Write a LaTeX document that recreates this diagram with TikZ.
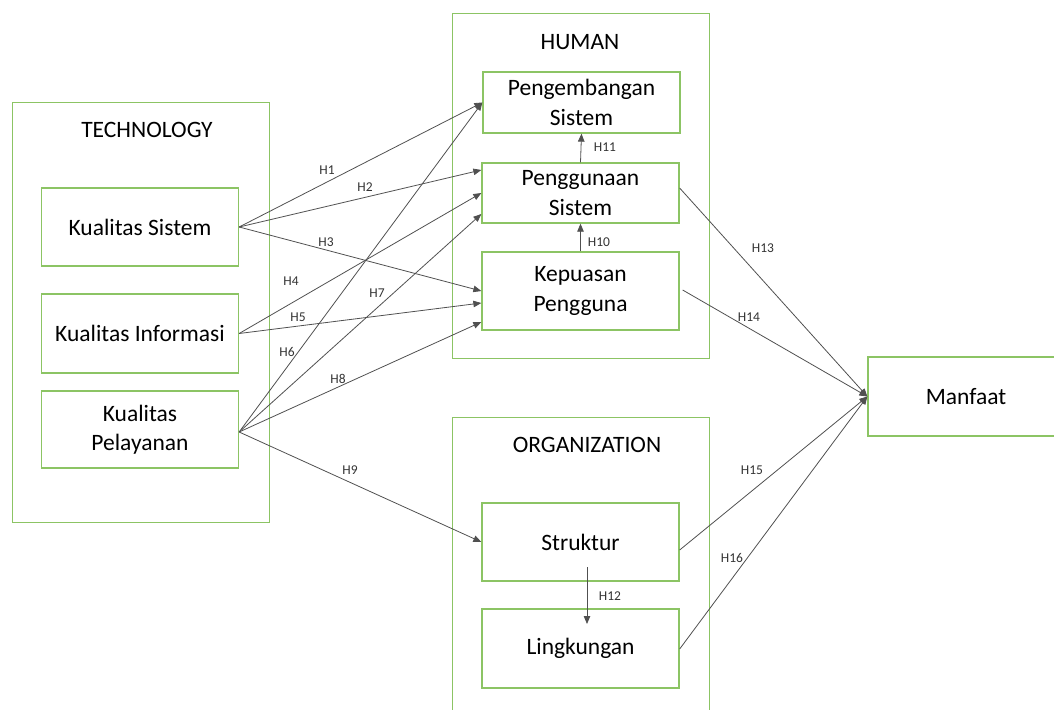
\documentclass[tikz,border=0pt]{standalone}
\usepackage{fontspec}
\setmainfont{Carlito}
\usetikzlibrary{arrows.meta}
\definecolor{boxgreen}{RGB}{140,196,100}
\definecolor{linegray}{RGB}{80,80,80}
\tikzset{
  outerbox/.style={draw=boxgreen, line width=1.3pt, inner sep=0pt, anchor=north west},
  varbox/.style={draw=boxgreen, line width=1.3pt, inner sep=0pt, minimum width=197pt, minimum height=78pt, align=center, font=\fontsize{23.5}{29.5}\selectfont},
  titletext/.style={font=\fontsize{23.5}{28}\selectfont},
  conn/.style={draw=linegray, line width=0.8pt, -{Triangle[length=8pt,width=6.5pt]}},
  hlab/.style={font=\fontsize{13.5}{15}\selectfont, text=black!80, inner sep=1pt}
}
\begin{document}
\begin{tikzpicture}[x=1pt,y=-1pt]
\useasboundingbox (0,0) rectangle (1054,709);
% group boxes
\node[outerbox, minimum width=257pt, minimum height=420pt] (techbox) at (12,102) {};
\node[outerbox, minimum width=257pt, minimum height=345pt] (humanbox) at (452,13) {};
\node[outerbox, minimum width=257pt, minimum height=310pt] (orgbox) at (452,417) {};
\node[titletext] (techtitle) at (147,130) {TECHNOLOGY};
\node[titletext] (humantitle) at (580,42) {HUMAN};
\node[titletext] (orgtitle) at (587,445) {ORGANIZATION};
% variable boxes
\node[varbox] (ks) at (140,227) {Kualitas Sistem};
\node[varbox, minimum height=79pt] (ki) at (140,333.5) {Kualitas Informasi};
\node[varbox, minimum height=77pt] (kl) at (140,429.5) {Kualitas\\Pelayanan};
\node[varbox, minimum height=61pt] (pe) at (581.5,102.5) {Pengembangan\\Sistem};
\node[varbox, minimum height=60pt] (pg) at (580.5,193) {Penggunaan\\Sistem};
\node[varbox] (kp) at (580.5,291) {Kepuasan\\Pengguna};
\node[varbox] (st) at (580.5,542) {Struktur};
\node[varbox, minimum height=79pt] (lg) at (580.5,648.5) {Lingkungan};
\node[varbox, minimum width=196pt, minimum height=79pt] (mf) at (966,396.5) {Manfaat};
% connectors from technology
\draw[conn] (ks.east) -- (pe.west);
\draw[conn] (ks.east) -- ([yshift=23pt]pg.west);
\draw[conn] (ks.east) -- (kp.west);
\draw[conn] (ki.east) -- (pg.west);
\draw[conn] (ki.east) -- ([yshift=-12pt]kp.west);
\draw[conn] ([yshift=-2.5pt]kl.east) -- (pe.west);
\draw[conn] ([yshift=-2.5pt]kl.east) -- ([yshift=-21pt]pg.west);
\draw[conn] ([yshift=-2.5pt]kl.east) -- ([yshift=-31pt]kp.west);
\draw[conn] ([yshift=-2.5pt]kl.east) -- (st.west);
% inner connectors
\draw[conn] (pg.north) -- (pe.south);
\draw[conn] (kp.north) -- (pg.south);
\coordinate (h12a) at (587,567);
\coordinate (h12b) at (587,624);
\draw[conn] (h12a) -- (h12b);
% connectors to Manfaat
\draw[conn] ([yshift=5pt]pg.east) -- (mf.west);
\draw[conn] ([xshift=3pt,yshift=1pt]kp.east) -- (mf.west);
\draw[conn] ([yshift=-8pt]st.east) -- (mf.west);
\draw[conn] ([yshift=-0.5pt]lg.east) -- (mf.west);
% labels
\node[hlab] (l1) at (327,170) {H1};
\node[hlab] (l2) at (365,187) {H2};
\node[hlab] (l3) at (326,242) {H3};
\node[hlab] (l4) at (291,281) {H4};
\node[hlab] (l5) at (298,317) {H5};
\node[hlab] (l6) at (287,352) {H6};
\node[hlab] (l7) at (377,293) {H7};
\node[hlab] (l8) at (338,379) {H8};
\node[hlab] (l9) at (350,470) {H9};
\node[hlab] (l10) at (599,242) {H10};
\node[hlab] (l11) at (605,147) {H11};
\node[hlab] (l12) at (610,596) {H12};
\node[hlab] (l13) at (763,248) {H13};
\node[hlab] (l14) at (749,317) {H14};
\node[hlab] (l15) at (752,470) {H15};
\node[hlab] (l16) at (732,558) {H16};
\end{tikzpicture}
\end{document}
